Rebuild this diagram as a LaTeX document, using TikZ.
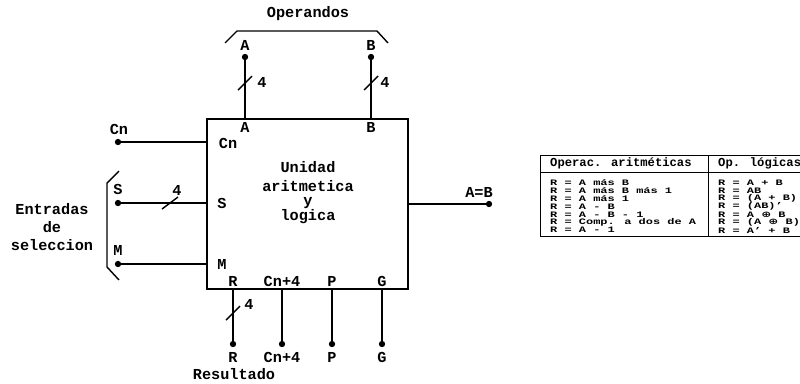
\documentclass[tikz,border=0pt]{standalone}
\usepackage{fontspec}
\setmainfont{Liberation Mono}
\newfontfamily\symfont{DejaVu Sans}
\usetikzlibrary{positioning}

\begin{document}
\begin{tikzpicture}[
            x=0.3mm, y=-0.3mm,
            font=\fontsize{13}{15}\selectfont\bfseries,
            alu/.style={rectangle, draw, line width=1.3pt,
                        minimum width=60.3mm, minimum height=51mm, inner sep=0pt},
            wire/.style={line width=1.2pt},
            term/.style={circle, fill, minimum size=1.9mm, inner sep=0pt},
            lbl/.style={inner sep=0pt},
            tbl/.style={line width=0.8pt},
            cell/.style={inner sep=0pt, anchor=west,
                         font=\fontsize{10.4}{12}\selectfont\bfseries},
            row/.style={cell, yscale=0.7, transform shape,
                        font=\fontsize{10.2}{12}\selectfont\bfseries},
        ]
            \useasboundingbox (0,0) rectangle (800,383);

            % unidad
            \node[alu] (alu) at (307.5,204) {};
            \node[lbl] (uni) at (308,167) {Unidad};
            \node[lbl] (ari) at (308,186) {aritmetica};
            \node[lbl] (yy)  at (308,203) {y};
            \node[lbl] (log) at (308,217) {logica};

            % terminales
            \node[term] (dA)  at (245,57)  {};
            \node[term] (dB)  at (371,57)  {};
            \node[term] (dCn) at (118,142) {};
            \node[term] (dS)  at (118,203) {};
            \node[term] (dM)  at (118,264) {};
            \node[term] (dR)  at (233,344) {};
            \node[term] (dC4) at (282,344) {};
            \node[term] (dP)  at (332,344) {};
            \node[term] (dG)  at (382,344) {};
            \node[term] (dEq) at (489,204) {};

            \draw[wire] (dA)  -- (dA |- alu.north);
            \draw[wire] (dB)  -- (dB |- alu.north);
            \draw[wire] (dCn) -- (dCn -| alu.west);
            \draw[wire] (dS)  -- (dS -| alu.west);
            \draw[wire] (dM)  -- (dM -| alu.west);
            \draw[wire] (dR)  -- (dR |- alu.south);
            \draw[wire] (dC4) -- (dC4 |- alu.south);
            \draw[wire] (dP)  -- (dP |- alu.south);
            \draw[wire] (dG)  -- (dG |- alu.south);
            \draw[wire] (dEq) -- (dEq -| alu.east);

            % buses de 4 bits
            \coordinate (sA) at (245,83);
            \coordinate (sB) at (371,83);
            \coordinate (sS) at (170,203);
            \coordinate (sR) at (233,313);
            \draw[wire] (sA) +(-7,7) -- +(7,-7);
            \draw[wire] (sB) +(-7,7) -- +(7,-7);
            \draw[wire] (sS) +(-8,6) -- +(8,-6);
            \draw[wire] (sR) +(-7,7) -- +(7,-7);
            \node[lbl] (nA) at (262,82)  {4};
            \node[lbl] (nB) at (385,82)  {4};
            \node[lbl] (nS) at (177,190) {4};
            \node[lbl] (nR) at (249,304) {4};

            % etiquetas externas
            \node[lbl] (lA)  at (245,45)  {A};
            \node[lbl] (lB)  at (371,45)  {B};
            \node[lbl] (lCn) at (119,129) {Cn};
            \node[lbl] (lS)  at (118,189) {S};
            \node[lbl] (lM)  at (118,250) {M};
            \node[lbl] (lR)  at (233,357) {R};
            \node[lbl] (lC4) at (282,357) {Cn+4};
            \node[lbl] (lP)  at (332,357) {P};
            \node[lbl] (lG)  at (382,357) {G};
            \node[lbl] (lEq) at (479,192) {A=B};

            % etiquetas internas
            \node[lbl] (iA)  at (245,127) {A};
            \node[lbl] (iB)  at (371,127) {B};
            \node[lbl] (iCn) at (228,143) {Cn};
            \node[lbl] (iS)  at (222,203) {S};
            \node[lbl] (iM)  at (222,264) {M};
            \node[lbl] (iR)  at (233,281) {R};
            \node[lbl] (iC4) at (282,281) {Cn+4};
            \node[lbl] (iP)  at (332,281) {P};
            \node[lbl] (iG)  at (382,281) {G};

            % llaves
            \draw[wire] (225,43) -- (237,31) -- (377,31) -- (388,43);
            \node[lbl] (ope) at (308,14) {Operandos};
            \draw[wire] (119,171) -- (107,183) -- (107,267) -- (119,280);
            \node[lbl, align=center] (sel) at (52,227) {Entradas\\de\\seleccion};
            \node[lbl] (res) at (234,374) {Resultado};

            % tabla de operaciones
            \draw[tbl] (800,155) -| (540,236) -- (800,236);
            \draw[tbl] (540,172) -- (800,172);
            \draw[tbl] (708,155) -- (708,236);
            \node[cell] (h1) at (550,163) {Operac. aritméticas};
            \node[cell] (h2) at (718,163) {Op. lógicas};
            \foreach \txt [count=\i from 0] in {R = A más B, R = A más B más 1,
                    R = A más 1, R = A - B, R = A - B - 1,
                    R = Comp. a dos de A, R = A - 1}
                \node[row] (ar\i) at (550,183+7.83*\i) {\txt};
            \foreach \txt [count=\i from 0] in {R = A + B, R = AB, R = (A + B),
                    R = (AB)', R = A {\symfont ⊕} B, R = (A {\symfont ⊕} B),
                    R = A' + B}
                \node[row] (lo\i) at (718,183+7.83*\i) {\txt};
        \end{tikzpicture}
\end{document}
